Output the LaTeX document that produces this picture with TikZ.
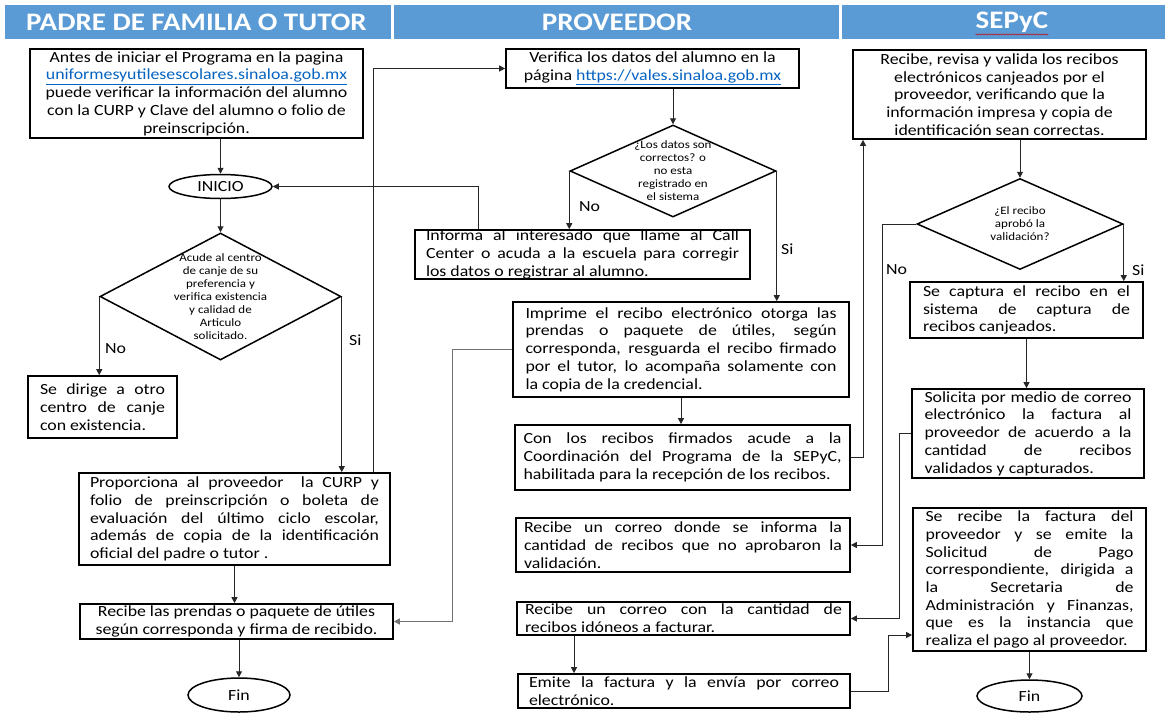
\documentclass[tikz,border=0pt]{standalone}
\usepackage{fontspec}
\setmainfont{Carlito}[FakeStretch=1.15]
\usetikzlibrary{shapes.geometric,arrows.meta,calc,decorations.pathmorphing}
\definecolor{hdr}{HTML}{5B9BD5}
\definecolor{lnk}{HTML}{0563C1}
\hyphenpenalty=10000
\exhyphenpenalty=10000
\tolerance=9000
\newcommand\bodyf{\fontsize{15.5}{17.7}\selectfont}
\newcommand\smallf{\fontsize{11.3}{13}\selectfont}
\newcommand\hdrf{\fontsize{25.2}{28}\selectfont\bfseries}
\newcommand\lb{\linebreak}
\newcommand\lnk[1]{\textcolor{lnk}{\underline{#1}}}
\tikzset{
  box/.style={draw, line width=1.7pt, inner xsep=0pt, inner ysep=0pt, font=\bodyf},
  jbox/.style={box, align=justify},
  cbox/.style={box, align=center},
  dia/.style={draw, diamond, line width=1.5pt, inner sep=0pt},
  dtext/.style={font=\smallf, align=center, inner sep=0pt},
  term/.style={draw, ellipse, line width=1.5pt, inner sep=0pt, font=\bodyf},
  conn/.style={line width=1pt, draw=black!85, -{Triangle[length=6pt,width=6pt]}},
  lbl/.style={font=\bodyf, inner sep=0pt, anchor=west},
  hbar/.style={fill=hdr, draw=none},
  htext/.style={font=\hdrf, text=white, inner sep=0pt}
}
\begin{document}
\begin{tikzpicture}[x=1pt,y=-1pt]
\useasboundingbox (0,0) rectangle (1167,713);
% header
\fill[hbar] (5,5) rectangle (391,39);
\fill[hbar] (394,5) rectangle (839,39);
\fill[hbar] (842,5) rectangle (1165,39);
\node[htext] (h1) at (196.5,22) {PADRE DE FAMILIA O TUTOR};
\node[htext] (h2) at (617,22) {PROVEEDOR};
\node[htext] (h3) at (1012,22) {SEPyC};
\draw[red!80!black, line width=0.5pt, decorate, decoration={snake, amplitude=0.6pt, segment length=3pt}]
  ([yshift=-2pt]h3.south west) -- ([yshift=-2pt]h3.south east);

% column 1
\node[cbox, minimum width=333pt, minimum height=89pt] (antes) at (196.5,93.5)
 {Antes de iniciar el Programa en la pagina\\
  \lnk{uniformesyutilesescolares.sinaloa.gob.mx}\\
  puede verificar la información del alumno\\
  con la CURP y Clave del alumno o folio de\\
  preinscripción.};
\node[term, minimum width=103pt, minimum height=24pt] (inicio) at (220.5,186.5) {INICIO};
\node[dia, minimum width=241pt, minimum height=127pt] (d1) at (220.5,296.5) {};
\node[dtext] (d1t) at (d1.center) {Acude al centro\\de canje de su\\preferencia y\\verifica existencia\\y calidad de\\Articulo\\solicitado.};
\node[jbox, text width=125pt, minimum width=149pt, minimum height=62pt] (dirige) at (102.5,407)
 {Se dirige a otro\lb centro de canje\lb con existencia.};
\node[jbox, text width=289pt, minimum width=311pt, minimum height=92pt] (prop) at (234.5,519)
 {Proporciona al proveedor \ la CURP y\lb folio de preinscripción o boleta de\lb evaluación del último ciclo escolar,\lb además de copia de la identificación\lb oficial del padre o tutor .};
\node[cbox, minimum width=313pt, minimum height=35pt] (prendas) at (236.5,621.5)
 {Recibe las prendas o paquete de útiles\\según corresponda y firma de recibido.};
\node[term, minimum width=102pt, minimum height=34pt] (fin1) at (239,695) {Fin};

% column 2
\node[cbox, minimum width=293pt, minimum height=39pt] (verif) at (652.5,68.5)
 {Verifica los datos del alumno en la\\página \lnk{https://vales.sinaloa.gob.mx}};
\node[dia, minimum width=206pt, minimum height=92pt] (d2) at (673,171) {};
\node[dtext] (d2t) at (d2.center) {¿Los datos son\\correctos? o\\no esta\\registrado en\\el sistema};
\node[jbox, text width=313pt, minimum width=335pt, minimum height=49pt] (informa) at (582.5,254.5)
 {Informa al interesado que llame al Call\lb Center o acuda a la escuela para corregir\lb los datos o registrar al alumno.};
\node[jbox, text width=311pt, minimum width=336pt, minimum height=95pt] (imprime) at (681,349.5)
 {Imprime el recibo electrónico otorga las\lb prendas o paquete de útiles, según\lb corresponda, resguarda el recibo firmado\lb por el tutor, lo acompaña solamente con\lb la copia de la credencial.};
\node[jbox, text width=318pt, minimum width=335pt, minimum height=65pt] (con) at (682.5,457.5)
 {Con los recibos firmados acude a la\lb Coordinación del Programa de la SEPyC,\lb habilitada para la recepción de los recibos.};
\node[jbox, text width=318pt, minimum width=334pt, minimum height=54pt] (rdonde) at (683,545)
 {Recibe un correo donde se informa la\lb cantidad de recibos que no aprobaron la\lb validación.};
\node[jbox, text width=317pt, minimum width=333pt, minimum height=33pt] (rcon) at (683.5,618.5)
 {Recibe un correo con la cantidad de\lb recibos idóneos a facturar.};
\node[jbox, text width=310pt, minimum width=332pt, minimum height=34pt] (emite) at (684,691)
 {Emite la factura y la envía por correo\lb electrónico.};

% column 3
\node[cbox, minimum width=293pt, minimum height=89pt] (srev) at (999.5,94.5)
 {Recibe, revisa y valida los recibos\\electrónicos canjeados por el\\proveedor, verificando que la\\información impresa y copia de\\identificación sean correctas.};
\node[dia, minimum width=206pt, minimum height=91pt] (d3) at (1020,224) {};
\node[dtext] (d3t) at (d3.center) {¿El recibo\\aprobó la\\validación?};
\node[jbox, text width=207pt, minimum width=233pt, minimum height=56pt] (captura) at (1026.5,310)
 {Se captura el recibo en el\lb sistema de captura de\lb recibos canjeados.};
\node[jbox, text width=207pt, minimum width=232pt, minimum height=89pt] (solic) at (1028,433.5)
 {Solicita por medio de correo\lb electrónico la factura al\lb proveedor de acuerdo a la\lb cantidad de recibos\lb validados y capturados.};
\node[jbox, text width=208pt, minimum width=233pt, minimum height=143pt] (srecibe) at (1029.5,579.5)
 {Se recibe la factura del\lb proveedor y se emite la\lb Solicitud de Pago\lb correspondiente, dirigida a\lb la Secretaria de\lb Administración y Finanzas,\lb que es la instancia que\lb realiza el pago al proveedor.};
\node[term, minimum width=105pt, minimum height=32pt] (fin2) at (1029.5,696) {Fin};

% helper coordinates
\coordinate (c1) at (373,0);
\coordinate (c2) at (478,0);
\coordinate (c3) at (452,0);
\coordinate (c4) at (863,0);
\coordinate (c5) at (882,0);
\coordinate (c6) at (899,0);
\coordinate (c7) at (574,0);
\coordinate (c8) at (888,635);

% connectors column 1
\draw[conn] (antes.south -| inicio) -- (inicio.north);
\draw[conn] (inicio.south) -- (d1.north);
\draw[conn] (d1.west) -- (d1.west |- dirige.north);
\draw[conn] (d1.east) -- (d1.east |- prop.north);
\draw[conn] (prop.north -| c1) |- (verif.west);
\draw[conn] (prop.south) -- (prop.south |- prendas.north);
\draw[conn] (prendas.south -| fin1) -- (fin1.north);
% column 2
\draw[conn] (verif.south -| d2) -- (d2.north);
\draw[conn] (d2.west) -- (d2.west |- informa.north);
\draw[conn] (informa.north -| c2) |- (inicio.east);
\draw[conn] (d2.east) -- (d2.east |- imprime.north);
\draw[conn, draw=black!55] (imprime.west) -- (imprime.west -| c3) -- (c3 |- prendas.east) -- (prendas.east);
\draw[conn] (imprime.south) -- (imprime.south |- con.north);
\draw[conn] (con.east) -- (con.east -| c4) -- (c4 |- srev.south);
\draw[conn] (rcon.south -| c7) -- (c7 |- emite.north);
\draw[conn] (emite.east) -| (c8) -- (c8 -| srecibe.west);
% column 3
\draw[conn] (srev.south -| d3) -- (d3.north);
\draw[conn] (d3.west) -- (d3.west -| c5) -- (c5 |- rdonde.east) -- (rdonde.east);
\draw[conn] (d3.east) -- (d3.east |- captura.north);
\draw[conn] (captura.south) -- (captura.south |- solic.north);
\draw[conn] (solic.west) -- (solic.west -| c6) -- (c6 |- rcon.east) -- (rcon.east);
\draw[conn] (srecibe.south) -- (fin2.north);

% labels
\node[lbl] (no1) at (105,349) {No};
\node[lbl] (si1) at (349,340) {Si};
\node[lbl] (no2) at (579,207) {No};
\node[lbl] (si2) at (781,249) {Si};
\node[lbl] (no3) at (886,270) {No};
\node[lbl] (si3) at (1132,270) {Si};
\end{tikzpicture}
\end{document}
